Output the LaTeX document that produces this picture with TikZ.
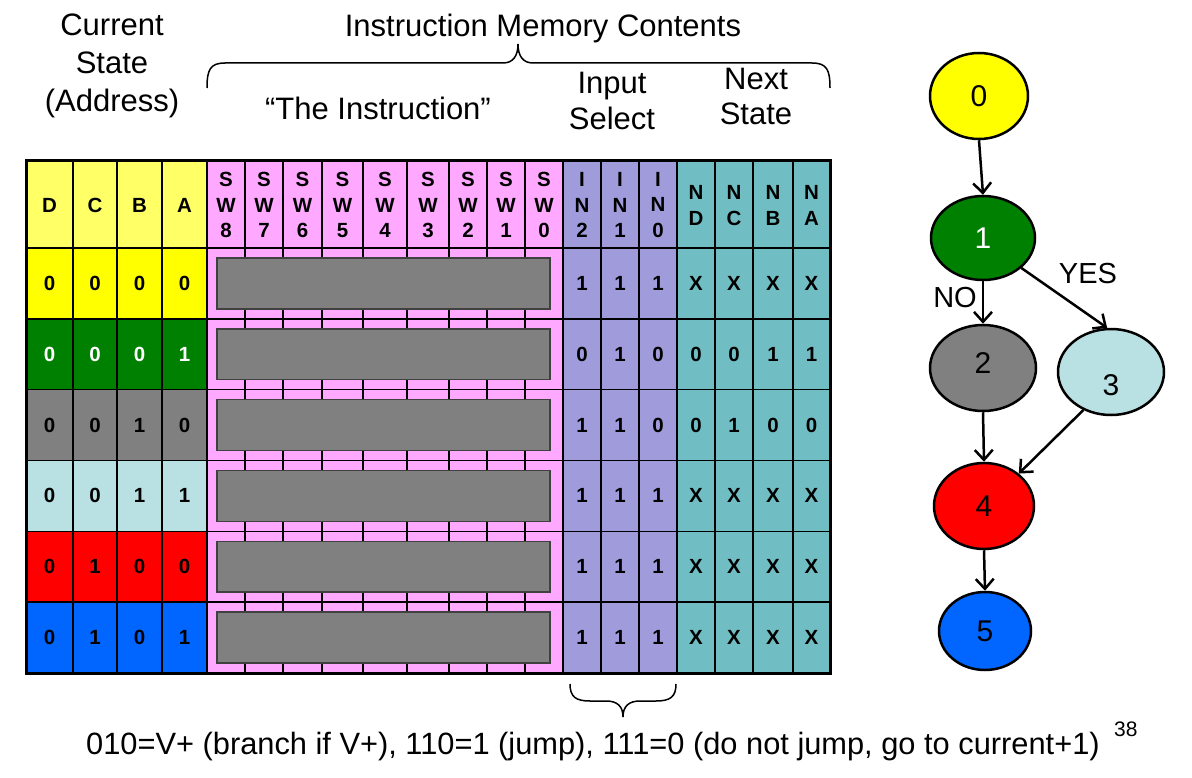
\documentclass[tikz,border=0pt]{standalone}
\usepackage{fontspec}
\setmainfont{Liberation Sans}
\usetikzlibrary{shapes.geometric,arrows.meta}
\definecolor{hyel}{HTML}{FFFF66}
\definecolor{cyel}{HTML}{FFFF00}
\definecolor{cgrn}{HTML}{008000}
\definecolor{cgry}{HTML}{808080}
\definecolor{clbl}{HTML}{B9E0E3}
\definecolor{cred}{HTML}{FF0000}
\definecolor{cblu}{HTML}{0066FF}
\definecolor{cpink}{HTML}{FFA8FF}
\definecolor{cpur}{HTML}{A09CDC}
\definecolor{cteal}{HTML}{70BEC4}
\definecolor{boxedge}{HTML}{404040}
\newcommand\tcellfont{\fontsize{20.5bp}{25.5bp}\bfseries\selectfont}
\newcommand\hdrfont{\fontsize{31bp}{37bp}\selectfont}
\newcommand\grfont{\fontsize{30bp}{36bp}\selectfont}
\newcommand\lblfont{\fontsize{29bp}{34bp}\selectfont}
\newcommand\capfont{\fontsize{30.8bp}{37bp}\selectfont}
\begin{document}
\begin{tikzpicture}[x=1bp,y=-1bp,
  cell/.style={inner sep=0pt, align=center, font=\tcellfont},
  hdr/.style={inner sep=0pt, anchor=base, font=\hdrfont},
  st/.style={ellipse, draw, line width=2.5bp, inner sep=0pt, font=\grfont},
  edge/.style={line width=2.5bp, -{Straight Barb[length=10bp,width=18bp]}},
  gridline/.style={line width=1.5bp, black},
  brace/.style={line width=1.5bp, black}]
\useasboundingbox (0,0) rectangle (1192,778);
\fill[white] (0,0) rectangle (1192,778);

% ---------- header texts ----------
\node[hdr] (cs1) at (112,35.5) {Current};
\node[hdr] (cs2) at (112,73.5) {State};
\node[hdr] (cs3) at (112,111.5) {(Address)};
\node[hdr] (imc) at (543,36.5) {Instruction Memory Contents};
\node[hdr] (thei) at (378,119.5) {“The Instruction”};
\node[hdr] (is1) at (612,93.5) {Input};
\node[hdr] (is2) at (612,129.5) {Select};
\node[hdr] (ns1) at (756,89.5) {Next};
\node[hdr] (ns2) at (756,124.5) {State};

% top brace
\draw[brace] (207,88) .. controls (207,70) and (210,63) .. (225,63) -- (503,63)
  .. controls (513,63) and (518,56) .. (518,44)
  .. controls (518,56) and (523,63) .. (533,63) -- (812,63)
  .. controls (827,63) and (830,70) .. (830,88);

% ---------- header row fills ----------
\fill[hyel] (26,160) rectangle (207,248);
\fill[cpink] (207,160) rectangle (563,248);
\fill[cpur] (563,160) rectangle (677,248);
\fill[cteal] (677,160) rectangle (830,248);

% ---------- data row fills ----------
\foreach \r/\col in {0/cyel,1/cgrn,2/cgry,3/clbl,4/cred,5/cblu}{
  \pgfmathsetmacro\yt{248+\r*70.8333}
  \pgfmathsetmacro\yb{248+(\r+1)*70.8333}
  \fill[\col] (26,\yt) rectangle (207,\yb);
  \fill[cpink] (207,\yt) rectangle (563,\yb);
  \fill[cpur] (563,\yt) rectangle (677,\yb);
  \fill[cteal] (677,\yt) rectangle (830,\yb);
}

% ---------- grid ----------
\foreach \x in {73,117,162,207,245,283,322,363,407,449,487,525,563,601,639,677,715,753,793}{
  \draw[gridline] (\x,160) -- (\x,673);
}
\foreach \r in {0,...,5}{
  \pgfmathsetmacro\yt{248+\r*70.8333}
  \draw[gridline] (26,\yt) -- (830,\yt);
}

% ---------- gray instruction boxes ----------
\foreach \r in {0,...,5}{
  \pgfmathsetmacro\yt{248+\r*70.8333}
  \pgfmathsetmacro\yb{248+(\r+1)*70.8333}
  \filldraw[fill=cgry, draw=boxedge, line width=1.5bp] (217,\yt+10) rectangle (550,\yb-10);
}

% outer border
\draw[line width=3bp] (26,160) rectangle (830,673);

% ---------- header cell texts ----------
\foreach \t/\x [count=\i] in {D/49.5,C/95,B/139.5,A/184.5}{
  \node[cell] (h\i) at (\x,205) {\t};
}
\foreach \t/\x in {8/226,7/264,6/302.5,5/342.5,4/385,3/428,2/468,1/506,0/544}{
  \node[cell] (sw\t) at (\x,205) {S\\W\\\t};
}
\foreach \t/\x in {2/582,1/620,0/658}{
  \node[cell] (in\t) at (\x,205) {I\\N\\\t};
}
\foreach \t/\x in {D/696,C/734,B/773,A/811.5}{
  \node[cell] (n\t) at (\x,205.5) {N\\\t};
}

% ---------- data cell texts ----------
\foreach \r/\tc/\d/\c/\b/\a/\p/\q/\s/\u/\v/\w/\z in {
  0/black/0/0/0/0/1/1/1/X/X/X/X,
  1/white/0/0/0/1/0/1/0/0/0/1/1,
  2/black/0/0/1/0/1/1/0/0/1/0/0,
  3/black/0/0/1/1/1/1/1/X/X/X/X,
  4/black/0/1/0/0/1/1/1/X/X/X/X,
  5/black/0/1/0/1/1/1/1/X/X/X/X}{
  \pgfmathsetmacro\ym{248+(\r+0.5)*70.8333}
  \node[cell,text=\tc] (r\r d) at (49.5,\ym) {\d};
  \node[cell,text=\tc] (r\r c) at (95,\ym) {\c};
  \node[cell,text=\tc] (r\r b) at (139.5,\ym) {\b};
  \node[cell,text=\tc] (r\r a) at (184.5,\ym) {\a};
  \node[cell] (r\r i2) at (582,\ym) {\p};
  \node[cell] (r\r i1) at (620,\ym) {\q};
  \node[cell] (r\r i0) at (658,\ym) {\s};
  \node[cell] (r\r nd) at (696,\ym) {\u};
  \node[cell] (r\r nc) at (734,\ym) {\v};
  \node[cell] (r\r nb) at (773,\ym) {\w};
  \node[cell] (r\r na) at (811.5,\ym) {\z};
}

% bottom brace
\draw[brace] (570,684) .. controls (570,697) and (576,701) .. (590,701) -- (606,701)
  .. controls (617,701) and (623,706) .. (623,717)
  .. controls (623,706) and (629,701) .. (640,701) -- (656,701)
  .. controls (670,701) and (676,697) .. (676,684);

% caption
\node[inner sep=0pt, anchor=base west, font=\capfont] (cap) at (86,754)
  {010=V+ (branch if V+), 110=1 (jump), 111=0 (do not jump, go to current+1)};
\node[inner sep=0pt, anchor=base west, font=\fontsize{21bp}{24bp}\selectfont] (pg) at (1114,736) {38};

% ---------- state graph ----------
\node[st, fill=cyel, minimum width=98bp, minimum height=86bp] (g0) at (979,96) {0};
\node[st, fill=cgrn, text=white, minimum width=104bp, minimum height=84bp] (g1) at (983,238) {1};
\node[st, fill=cgry, minimum width=106bp, minimum height=86bp,
  label={[font=\grfont, inner sep=0pt, yshift=5bp]center:2}] (g2) at (983,368) {};
\node[st, fill=clbl, minimum width=106bp, minimum height=86bp,
  label={[font=\grfont, inner sep=0pt, yshift=-13bp]center:3}] (g3) at (1111,372) {};
\node[st, fill=cred, minimum width=100bp, minimum height=86bp] (g4) at (984,506) {4};
\node[st, fill=cblu, minimum width=92bp, minimum height=78bp] (g5) at (985,631) {5};

\draw[edge] (g0.south) -- (g1.north);
\draw[edge] (g1.south) -- (g2.north);
\draw[edge] (g1.-38) -- (g3.95);
\draw[edge] (g2.south) -- (g4.north);
\draw[edge] (g3.-126) -- (g4.43);
\draw[edge] (g4.south) -- (g5.north);

\node[inner sep=0pt, font=\lblfont] (no) at (955,298) {NO};
\node[inner sep=0pt, font=\lblfont] (yes) at (1088,274) {YES};
\end{tikzpicture}
\end{document}
